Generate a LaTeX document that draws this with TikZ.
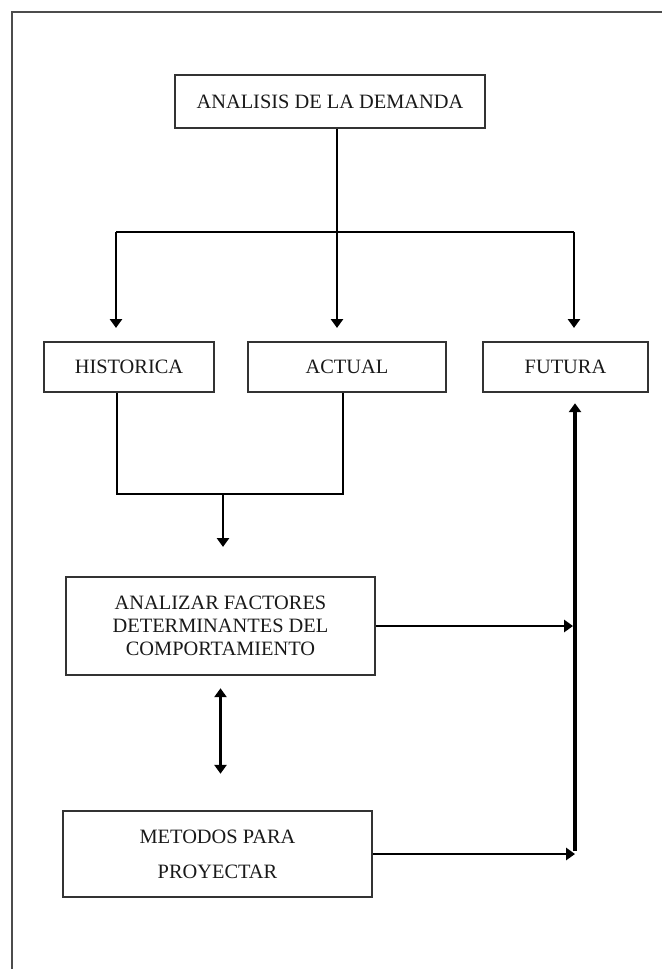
\documentclass[tikz,border=0pt]{standalone}
\usepackage{fontspec}
\setmainfont{Liberation Serif}
\usetikzlibrary{arrows.meta}

\begin{document}
\begin{tikzpicture}[x=0.025cm, y=-0.025cm,
    font=\fontsize{14.5}{16.5}\selectfont,
    caja/.style={draw=black!80, line width=1.8pt, inner sep=0pt, text=black!90, align=center},
    linea/.style={line width=2pt},
    flecha/.style={linea, -{Triangle[width=0.3cm,length=0.22cm]}},
    flechas/.style={linea, {Triangle[width=0.3cm,length=0.22cm]}-{Triangle[width=0.3cm,length=0.22cm]}}]
  \useasboundingbox (0,0) rectangle (662,969);
  % Marco
  \draw[black!70, line width=1.4pt] (12,969) -- (12,12) -- (662,12);

  % Cajas
  \node[caja, minimum width=7.75cm, minimum height=1.325cm] (demanda) at (330,101.5) {ANALISIS DE LA DEMANDA};
  \node[caja, minimum width=4.25cm, minimum height=1.25cm] (historica) at (129,367) {HISTORICA};
  \node[caja, minimum width=4.95cm, minimum height=1.25cm] (actual) at (347,367) {ACTUAL};
  \node[caja, minimum width=4.125cm, minimum height=1.25cm] (futura) at (565.5,367) {FUTURA};
  \node[caja, minimum width=7.725cm, minimum height=2.45cm] (factores) at (220.5,626) {ANALIZAR FACTORES\\DETERMINANTES DEL\\COMPORTAMIENTO};
  \node[caja, minimum width=7.725cm, minimum height=2.15cm] (metodos) at (217.5,854) {METODOS PARA\\[8.4pt]PROYECTAR};

  % Puntos de union
  \coordinate (rama) at (337,232);
  \coordinate (ramaI) at (116,232);
  \coordinate (ramaD) at (574,232);
  \coordinate (unionI) at (117,494);
  \coordinate (unionD) at (343,494);
  \coordinate (unionM) at (223,494);
  \coordinate (esquina) at (575,851);

  % Demanda -> historica, actual, futura
  \draw[linea] (demanda.south -| rama) -- (rama);
  \draw[linea] (ramaI) -- (ramaD);
  \draw[flecha, shorten >=0.32cm] (ramaI) -- (historica.north -| ramaI);
  \draw[flecha, shorten >=0.32cm] (rama) -- (actual.north -| rama);
  \draw[flecha, shorten >=0.32cm] (ramaD) -- (futura.north -| ramaD);

  % Historica + actual -> factores
  \draw[linea] (historica.south -| unionI) -- (unionI) -- (unionD) -- (actual.south -| unionD);
  \draw[flecha, shorten >=0.72cm] (unionM) -- (factores.north -| unionM);

  % Factores <-> metodos
  \draw[flechas, shorten <=0.3cm, shorten >=0.9cm] (factores.south) -- (factores.south |- metodos.north);

  % Hacia futura
  \draw[flecha, shorten >=0.05cm] (factores.east) -- (factores.east -| esquina);
  \draw[flecha] (metodos.east) -- (metodos.east -| esquina);
  \draw[flecha, line width=2.4pt, shorten >=0.25cm] (esquina) -- (futura.south -| esquina);
\end{tikzpicture}
\end{document}
